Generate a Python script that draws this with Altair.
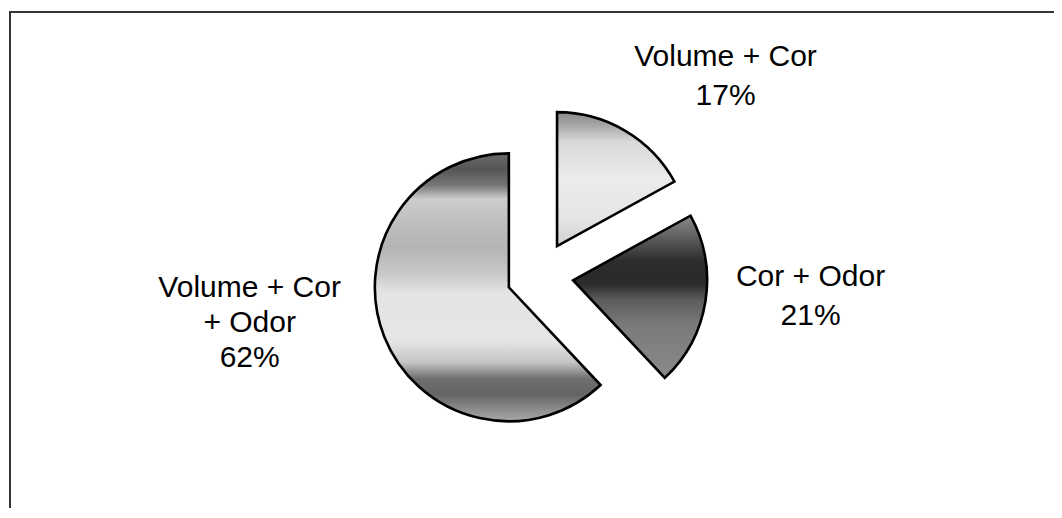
import altair as alt
import pandas as pd

# ---- data ----
categories = ["Volume + Cor", "Cor + Odor", "Volume + Cor + Odor"]
values = [17, 21, 62]
label_text = ["Volume + Cor\n17%", "Cor + Odor\n21%", "Volume + Cor\n+ Odor\n62%"]
order = [0, 1, 2]

df = pd.DataFrame({"cat": categories, "value": values, "label": label_text, "order": order})

# ---- layout constants ----
CX, CY = 531, 267      # pie centre (px)
R = 134                # pie radius
EXPLODE = 33.5         # explosion distance
RL = 280               # label radius


def grad(stops):
    return alt.LinearGradient(
        gradient="linear",
        stops=[alt.GradientStop(color=c, offset=o) for o, c in stops],
        x1=0, x2=0, y1=0, y2=1,
    )


fills = {
    "Volume + Cor": grad([(0, "#8c8c8c"), (0.08, "#a0a0a0"), (0.22, "#d8d8d8"),
                          (0.5, "#ececec"), (0.8, "#e4e4e4"), (1, "#d0d0d0")]),
    "Cor + Odor": grad([(0, "#8a8a8a"), (0.13, "#606060"), (0.28, "#2c2c2c"),
                        (0.42, "#2a2a2a"), (0.52, "#5c5c5c"), (0.67, "#7a7a7a"),
                        (1, "#8a8a8a")]),
    "Volume + Cor + Odor": grad([(0, "#6a6a6a"), (0.06, "#555555"), (0.12, "#777777"),
                                 (0.17, "#cccccc"), (0.25, "#c0c0c0"), (0.35, "#b4b4b4"),
                                 (0.45, "#c8c8c8"), (0.52, "#e4e4e4"), (0.7, "#e6e6e6"),
                                 (0.78, "#c4c4c4"), (0.84, "#707070"), (0.9, "#646464"),
                                 (0.96, "#909090"), (1, "#a8a8a8")]),
}

label_adj = {
    "Volume + Cor": (0, 23, 39),
    "Cor + Odor": (-6, -42, 39),
    "Volume + Cor + Odor": (-30, -90, 35),
}

base = (
    alt.Chart(df)
    .transform_joinaggregate(total="sum(value)")
    .transform_window(cum="sum(value)", frame=[None, 0], sort=[{"field": "order"}])
    .transform_calculate(
        start="2*PI*(datum.cum - datum.value)/datum.total",
        end="2*PI*datum.cum/datum.total",
    )
    .transform_calculate(mid="(datum.start + datum.end)/2")
    .transform_calculate(
        cx=f"{CX} + {EXPLODE}*sin(datum.mid)",
        cy=f"{CY} - {EXPLODE}*cos(datum.mid)",
        lx=f"{CX} + {RL}*sin(datum.mid)",
        ly=f"{CY} - {RL}*cos(datum.mid)",
    )
)

layers = []
for cat in categories:
    arc = base.transform_filter(alt.datum.cat == cat).mark_arc(
        radius=R, stroke="black", strokeWidth=2.6, fill=fills[cat]
    ).encode(
        theta=alt.Theta("start:Q", scale=None),
        theta2="end:Q",
        x=alt.X("cx:Q", scale=None, axis=None),
        y=alt.Y("cy:Q", scale=None, axis=None),
    )
    layers.append(arc)

for cat in categories:
    dx, dy, lh = label_adj[cat]
    if cat == "Volume + Cor":
        dx = 43
    txt = base.transform_filter(alt.datum.cat == cat).mark_text(
        font="Liberation Sans", fontSize=30, color="black", align="center",
        baseline="middle", lineBreak="\n", lineHeight=lh, dx=dx, dy=dy,
    ).encode(
        x=alt.X("lx:Q", scale=None, axis=None),
        y=alt.Y("ly:Q", scale=None, axis=None),
        text="label:N",
    )
    layers.append(txt)

# frame lines (top and left)
top_line = alt.Chart(df).mark_rule(color="#333333", strokeWidth=1.5).encode(
    x=alt.value(0), x2=alt.value(1046), y=alt.value(4)
)
left_line = alt.Chart(df).mark_rule(color="#333333", strokeWidth=2).encode(
    x=alt.value(1), y=alt.value(4), y2=alt.value(500)
)
layers += [top_line, left_line]

chart = (
    alt.layer(*layers)
    .properties(width=1046, height=500, padding=0,
                autosize=alt.AutoSizeParams(type="fit", contains="padding"))
    .configure_view(stroke=None)
)

chart.save("out.html", embed_options={"renderer": "svg", "actions": False})
